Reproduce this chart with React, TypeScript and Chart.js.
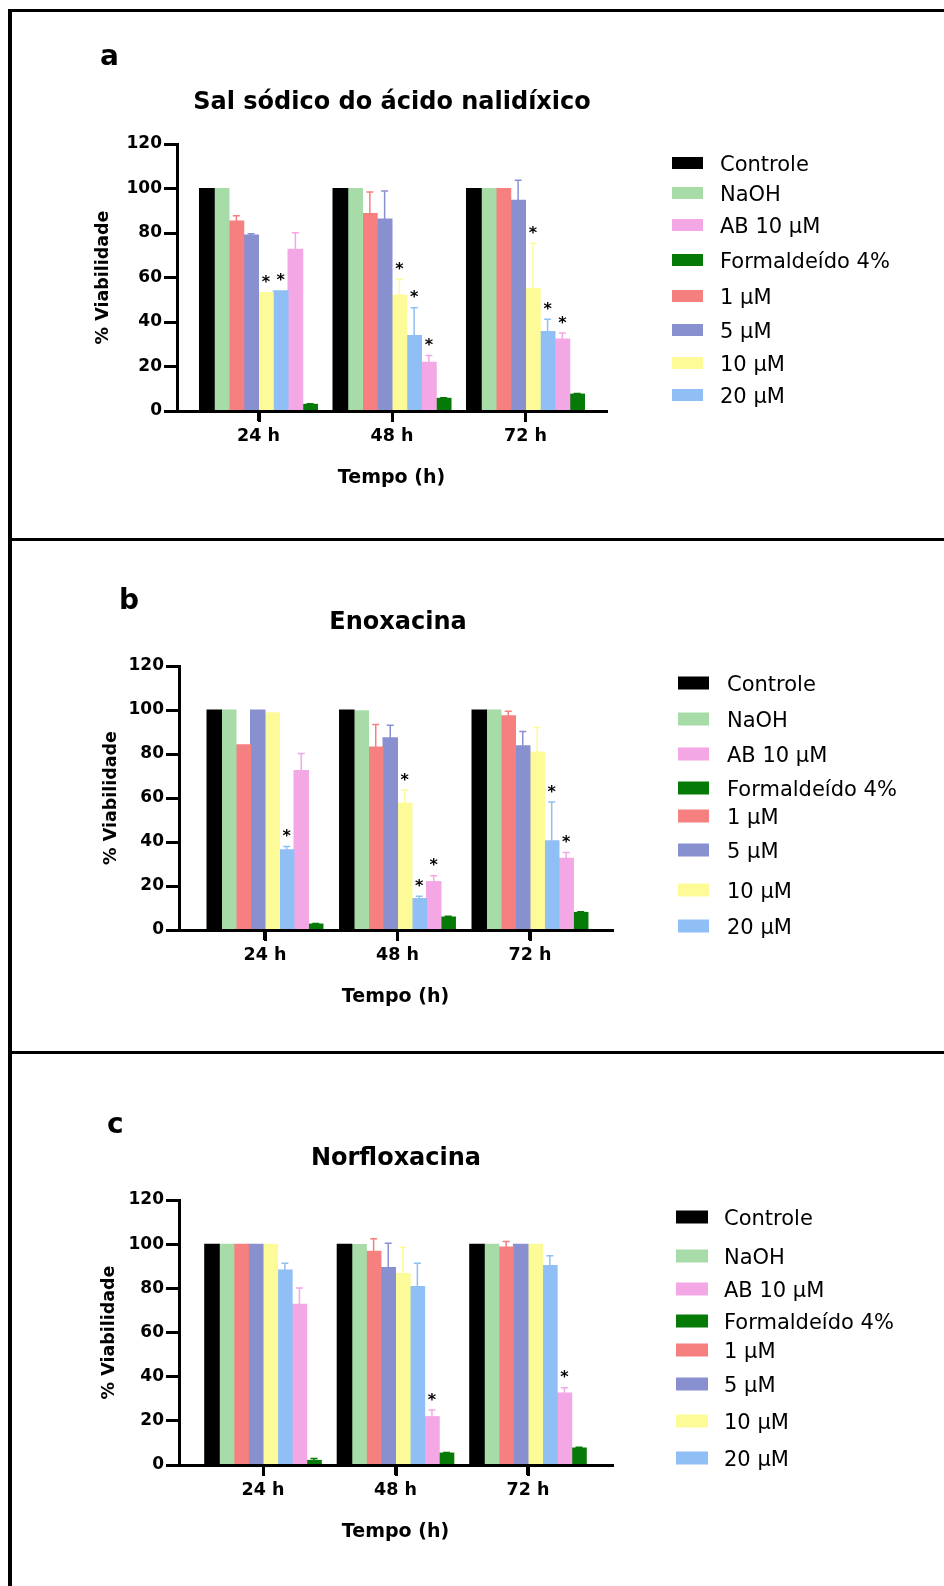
import React, { useEffect, useRef } from 'react';
import { Chart, registerables } from 'chart.js';

Chart.register(...registerables);

// ---------- data ----------
const timeLabels = ['24 h', '48 h', '72 h'];
const seriesNames = ['Controle', 'NaOH', '1 µM', '5 µM', '10 µM', '20 µM', 'AB 10 µM', 'Formaldeído 4%'];
const legendOrder = [0, 1, 6, 7, 2, 3, 4, 5];
const yTicks = [0, 20, 40, 60, 80, 100, 120];

// rows: series (seriesNames order), columns: timeLabels
const nalidixicoValues = [
  [100, 100, 100],
  [100, 100, 100],
  [85.4, 88.8, 100],
  [79.1, 86.3, 94.7],
  [53.3, 52.1, 55.1],
  [54.1, 33.9, 35.7],
  [72.7, 21.9, 32.4],
  [3.0, 5.7, 7.6],
];
const nalidixicoErrors = [
  [0, 0, 0],
  [0, 0, 0],
  [2.3, 9.6, 0],
  [0.6, 12.6, 9.0],
  [0, 7.1, 20.3],
  [0, 12.5, 5.5],
  [7.4, 3.0, 2.7],
  [0.3, 0.3, 0.3],
];
const nalidixicoStars = [
  [0, 0, 0],
  [0, 0, 0],
  [0, 0, 0],
  [0, 0, 0],
  [1, 1, 1],
  [1, 1, 1],
  [0, 1, 1],
  [0, 0, 0],
];

const enoxacinaValues = [
  [100, 100, 100],
  [100, 99.7, 100],
  [84.2, 83.2, 97.4],
  [100, 87.4, 83.8],
  [98.8, 57.6, 80.9],
  [36.5, 14.3, 40.6],
  [72.5, 22.0, 32.6],
  [2.7, 5.9, 8.0],
];
const enoxacinaErrors = [
  [0, 0, 0],
  [0, 0, 0],
  [0, 10.2, 2.0],
  [0, 5.7, 6.4],
  [0, 6.0, 11.1],
  [1.5, 1.0, 17.6],
  [7.7, 2.7, 2.6],
  [0.3, 0.3, 0.3],
];
const enoxacinaStars = [
  [0, 0, 0],
  [0, 0, 0],
  [0, 0, 0],
  [0, 0, 0],
  [0, 1, 0],
  [1, 1, 1],
  [0, 1, 1],
  [0, 0, 0],
];

const norfloxacinaValues = [
  [100, 100, 100],
  [100, 99.8, 100],
  [100, 96.8, 98.7],
  [100, 89.4, 100],
  [100, 86.7, 100],
  [88.3, 80.8, 90.3],
  [72.8, 21.9, 32.6],
  [2.1, 5.4, 7.7],
];
const norfloxacinaErrors = [
  [0, 0, 0],
  [0, 0, 0],
  [0, 5.7, 2.5],
  [0, 11.0, 0],
  [0, 11.9, 0],
  [3.1, 10.6, 4.5],
  [7.4, 3.0, 2.4],
  [0.9, 0.3, 0.3],
];
const norfloxacinaStars = [
  [0, 0, 0],
  [0, 0, 0],
  [0, 0, 0],
  [0, 0, 0],
  [0, 0, 0],
  [0, 0, 0],
  [0, 1, 1],
  [0, 0, 0],
];

// ---------- styles ----------
const seriesColors = ['#000000', '#a7dca9', '#f67f7f', '#8990cf', '#fdfb98', '#8fbff4', '#f3a7e4', '#067a06'];
const FONT = "'DejaVu Sans', sans-serif";
const PAGE_W = 944;

type Panel = {
  letter: string;
  title: string;
  values: number[][];
  errors: number[][];
  stars: number[][];
  top: number;
  height: number;
  area: { left: number; right: number; top: number; bottom: number };
  xRange: [number, number];
  catPct: number;
  yTitleX: number;
  letterPos: [number, number];
  titlePos: [number, number];
  legend: { boxX: number; boxW: number; boxH: number; textX: number; ys: number[] };
};

const panels: Panel[] = [
  {
    letter: 'a',
    title: 'Sal sódico do ácido nalidíxico',
    values: nalidixicoValues,
    errors: nalidixicoErrors,
    stars: nalidixicoStars,
    top: 0,
    height: 540,
    area: { left: 177, right: 606, top: 144, bottom: 411 },
    xRange: [-0.6105, 2.603],
    catPct: 0.884,
    yTitleX: 103,
    letterPos: [100, 65],
    titlePos: [392, 109],
    legend: { boxX: 672, boxW: 31, boxH: 12, textX: 720, ys: [163, 193, 225, 260, 296, 330, 363, 395] },
  },
  {
    letter: 'b',
    title: 'Enoxacina',
    values: enoxacinaValues,
    errors: enoxacinaErrors,
    stars: enoxacinaStars,
    top: 540,
    height: 512,
    area: { left: 179, right: 612, top: 666, bottom: 930 },
    xRange: [-0.649, 2.619],
    catPct: 0.875,
    yTitleX: 111,
    letterPos: [119, 609],
    titlePos: [398, 629],
    legend: { boxX: 678, boxW: 31, boxH: 13, textX: 727, ys: [683, 719, 754, 788, 816, 850, 890, 926] },
  },
  {
    letter: 'c',
    title: 'Norfloxacina',
    values: norfloxacinaValues,
    errors: norfloxacinaErrors,
    stars: norfloxacinaStars,
    top: 1052,
    height: 534,
    area: { left: 179, right: 612, top: 1200, bottom: 1465 },
    xRange: [-0.634, 2.634],
    catPct: 0.88,
    yTitleX: 109,
    letterPos: [107, 1133],
    titlePos: [396, 1165],
    legend: { boxX: 676, boxW: 32, boxH: 13, textX: 724, ys: [1217, 1256, 1289, 1321, 1350, 1384, 1421, 1458] },
  },
];

function overlayPlugin(p: Panel) {
  return {
    id: 'overlay' + p.letter,
    afterDatasetsDraw(chart: any) {
      const ctx = chart.ctx as CanvasRenderingContext2D;
      const yScale = chart.scales.y;
      ctx.save();
      chart.data.datasets.forEach((_ds: any, i: number) => {
        const meta = chart.getDatasetMeta(i);
        meta.data.forEach((bar: any, j: number) => {
          const v = p.values[i][j];
          const e = p.errors[i][j];
          const topPx = yScale.getPixelForValue(v + e);
          if (e > 0) {
            ctx.strokeStyle = seriesColors[i];
            ctx.lineWidth = 1.5;
            ctx.beginPath();
            ctx.moveTo(bar.x, bar.y);
            ctx.lineTo(bar.x, topPx);
            ctx.moveTo(bar.x - 3.5, topPx);
            ctx.lineTo(bar.x + 3.5, topPx);
            ctx.stroke();
          }
          if (p.stars[i][j]) {
            ctx.fillStyle = '#000';
            ctx.font = `bold 16px ${FONT}`;
            ctx.textAlign = 'center';
            ctx.textBaseline = 'alphabetic';
            ctx.fillText('*', bar.x, topPx - 15 + 9.6);
          }
        });
      });
      ctx.restore();
    },
    afterDraw(chart: any) {
      const ctx = chart.ctx as CanvasRenderingContext2D;
      const xScale = chart.scales.x;
      const bottom = chart.chartArea.bottom;
      ctx.save();
      // x-axis tick marks at the group centres
      ctx.strokeStyle = '#000';
      ctx.lineWidth = 3;
      ctx.beginPath();
      timeLabels.forEach((_l, i) => {
        const x = Math.round(xScale.getPixelForValue(i)) + 0.5;
        ctx.moveTo(x, bottom);
        ctx.lineTo(x, bottom + 11);
      });
      ctx.stroke();

      ctx.fillStyle = '#000';
      ctx.textBaseline = 'alphabetic';
      // panel letter
      ctx.font = `bold 28px ${FONT}`;
      ctx.textAlign = 'left';
      ctx.fillText(p.letter, p.letterPos[0], p.letterPos[1] - p.top);
      // title
      ctx.font = `bold 24px ${FONT}`;
      ctx.textAlign = 'center';
      ctx.fillText(p.title, p.titlePos[0], p.titlePos[1] - p.top);
      // legend
      const L = p.legend;
      ctx.font = `21px ${FONT}`;
      ctx.textAlign = 'left';
      legendOrder.forEach((si, k) => {
        const cy = L.ys[k] - p.top;
        ctx.fillStyle = seriesColors[si];
        ctx.fillRect(L.boxX, cy - L.boxH / 2, L.boxW, L.boxH);
        ctx.fillStyle = '#000';
        ctx.fillText(seriesNames[si], L.textX, cy + 0.3645 * 21);
      });
      ctx.restore();
    },
  };
}

function buildConfig(p: Panel): any {
  const yTitleSize = 17.5;
  const xTitleSize = 19;
  const scaleLeft = p.yTitleX - (yTitleSize * 1.2) / 2;
  const yWidth = p.area.left - scaleLeft;
  const xHeight = 67 + (xTitleSize * 1.2) / 2;
  const localTop = p.area.top - p.top;
  const localBottom = p.area.bottom - p.top;
  return {
    type: 'bar',
    data: {
      datasets: seriesNames.map((name, i) => ({
        label: name,
        data: p.values[i].map((v, j) => ({ x: j, y: v })),
        backgroundColor: seriesColors[i],
        borderWidth: 0,
        inflateAmount: 0.5,
        categoryPercentage: p.catPct,
        barPercentage: 1,
      })),
    },
    options: {
      responsive: false,
      maintainAspectRatio: false,
      animation: false,
      devicePixelRatio: 1,
      layout: {
        padding: {
          left: scaleLeft,
          right: PAGE_W - p.area.right,
          top: localTop,
          bottom: p.height - localBottom - xHeight,
        },
      },
      plugins: {
        legend: { display: false },
        tooltip: { enabled: false },
        title: { display: false },
      },
      scales: {
        x: {
          type: 'linear',
          min: p.xRange[0],
          max: p.xRange[1],
          offset: false,
          afterBuildTicks: (s: any) => {
            s.ticks = timeLabels.map((_l, i) => ({ value: i }));
          },
          afterFit: (s: any) => {
            s.height = xHeight;
          },
          ticks: {
            autoSkip: false,
            maxRotation: 0,
            padding: 5,
            color: '#000',
            font: { family: FONT, size: 17.5, weight: 'bold' },
            callback: (v: number) => timeLabels[Math.round(v)] ?? '',
          },
          grid: {
            display: true,
            offset: false,
            drawOnChartArea: false,
            drawTicks: true,
            tickLength: 10,
            color: '#000',
            lineWidth: 3,
          },
          border: { display: true, color: '#000', width: 3 },
          title: {
            display: true,
            text: 'Tempo (h)',
            color: '#000',
            font: { family: FONT, size: xTitleSize, weight: 'bold' },
            padding: { top: 0, bottom: 0 },
          },
        },
        y: {
          type: 'linear',
          min: 0,
          max: 120,
          afterBuildTicks: (s: any) => {
            s.ticks = yTicks.map((v) => ({ value: v }));
          },
          afterFit: (s: any) => {
            s.width = yWidth;
          },
          ticks: {
            padding: 2,
            color: '#000',
            font: { family: FONT, size: 17, weight: 'bold' },
          },
          grid: {
            display: true,
            drawOnChartArea: false,
            drawTicks: true,
            tickLength: 13,
            color: '#000',
            lineWidth: 3,
          },
          border: { display: true, color: '#000', width: 3 },
          title: {
            display: true,
            text: '% Viabilidade',
            color: '#000',
            font: { family: FONT, size: yTitleSize, weight: 'bold' },
            padding: { top: 0, bottom: 0 },
          },
        },
      },
    },
    plugins: [overlayPlugin(p)],
  };
}

function PanelChart({ p }: { p: Panel }) {
  const ref = useRef<HTMLCanvasElement | null>(null);
  useEffect(() => {
    if (!ref.current) return;
    const chart = new Chart(ref.current, buildConfig(p));
    return () => chart.destroy();
  }, [p]);
  return (
    <canvas
      ref={ref}
      width={PAGE_W}
      height={p.height}
      style={{ position: 'absolute', left: 0, top: p.top, width: PAGE_W, height: p.height, display: 'block' }}
    />
  );
}

export default function App() {
  const line = (s: React.CSSProperties) => (
    <div style={{ position: 'absolute', background: '#000', ...s }} />
  );
  return (
    <div style={{ position: 'absolute', left: 0, top: 0, width: PAGE_W, height: 1586, background: '#fff', overflow: 'hidden' }}>
      {panels.map((p) => (
        <PanelChart key={p.letter} p={p} />
      ))}
      {line({ left: 8, top: 9, width: 4, height: 1577 })}
      {line({ left: 8, top: 9, width: 936, height: 3 })}
      {line({ left: 10, top: 538, width: 934, height: 3 })}
      {line({ left: 10, top: 1051, width: 934, height: 3 })}
    </div>
  );
}
